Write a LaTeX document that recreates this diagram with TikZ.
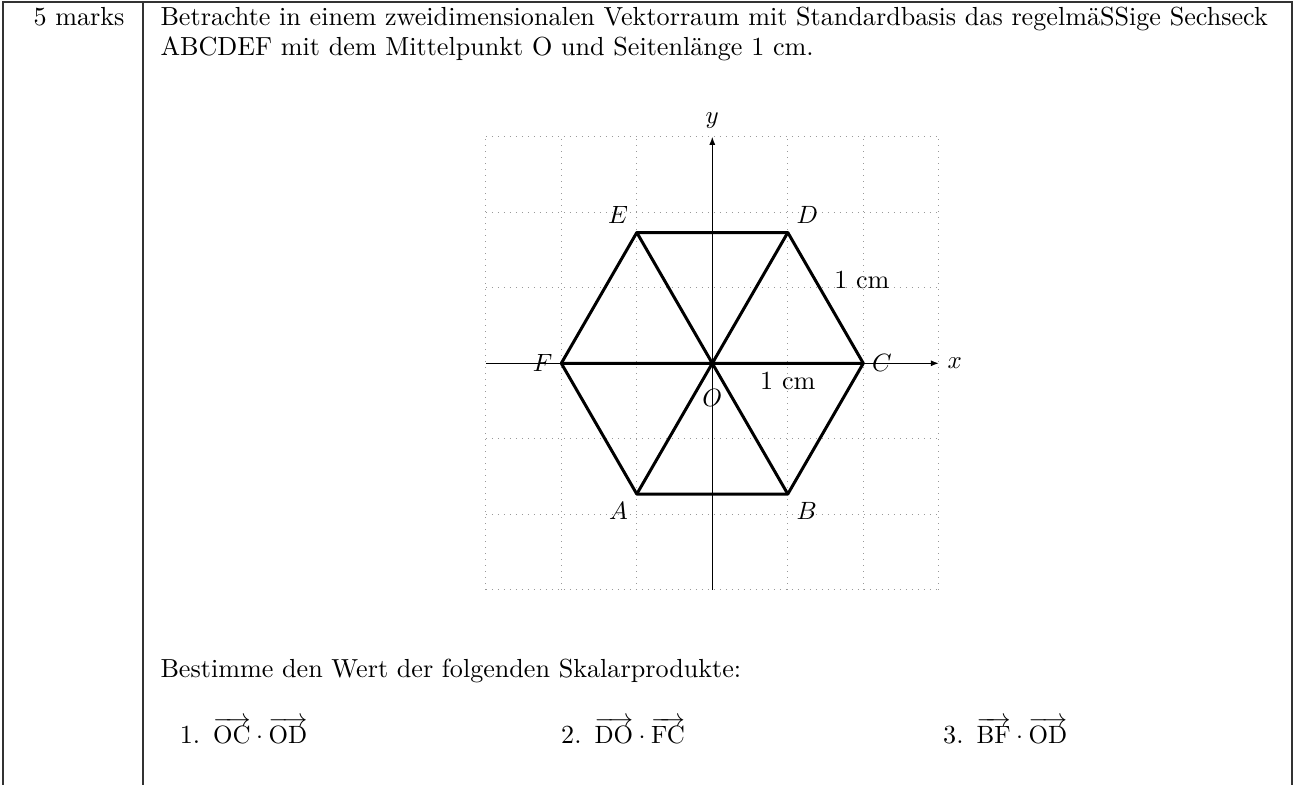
\documentclass[tikz,border=0pt]{standalone}
\usepackage{amsmath}
\usepackage{tikz}
\usetikzlibrary{arrows.meta, positioning}

\begin{document}
\begin{tikzpicture}[
  x=0.4pt, y=-0.4pt,
  font=\fontsize{10.45}{12.5}\selectfont,
  frm/.style={line width=0.5pt, draw=black!80},
  gd/.style={dotted, draw=black!40, line width=0.4pt},
  ax/.style={-{Latex[length=3.2pt, width=2.4pt]}, line width=0.45pt},
  hx/.style={line width=1.2pt, line join=round},
  txt/.style={anchor=base west, inner sep=0pt}
]
\useasboundingbox (0,0) rectangle (1296,785);
% table frame
\draw[frm] (3,785) -- (3,2) -- (1292,2) -- (1292,785);
\draw[frm] (143,2) -- (143,785);

\node[txt] (marks) at (33,25.7) {5 marks};
\node[txt] (intro1) at (160,25.7) {Betrachte in einem zweidimensionalen Vektorraum mit Standardbasis das regelmäSSige Sechseck};
\node[txt] (intro2) at (160,55.7) {ABCDEF mit dem Mittelpunkt O und Seitenlänge 1 cm.};

% hexagon on the grid
\begin{scope}[shift={(712.3,363.3)}, x=30.2pt, y=30.2pt]
  \draw[gd] (-3,-3) grid[step=1] (3,3);
  \draw[ax] (-3,0) -- (3,0) node[right] (xl) {$x$};
  \draw[ax] (0,-3) -- (0,3) node[above] (yl) {$y$};
  \coordinate (O) at (0,0);
  \foreach \n/\a in {C/0, D/60, E/120, F/180, A/240, B/300}
    \coordinate (\n) at (\a:2);
  \draw[hx] (A) -- (B) -- (C) -- (D) -- (E) -- (F) -- cycle;
  \draw[hx] (F) -- (C) (E) -- (B) (D) -- (A);
  \node[above left] (lE) at (E) {$E$};
  \node[above right] (lD) at (D) {$D$};
  \node[right] (lC) at (C) {$C$};
  \node[left] (lF) at (F) {$F$};
  \node[below left] (lA) at (A) {$A$};
  \node[below right] (lB) at (B) {$B$};
  \node[below=7pt] (lO) at (O) {$O$};
  \path (O) -- (C) node[midway, below] (s1) {1 cm};
  \path (C) -- (D) node[midway, above right] (s2) {1 cm};
\end{scope}

\node[txt] (task) at (160,677.3) {Bestimme den Wert der folgenden Skalarprodukte:};
\node[txt] (q1) at (179.3,743.3) {1.\enspace$\overrightarrow{\mathrm{OC}}\cdot\overrightarrow{\mathrm{OD}}$};
\node[txt] (q2) at (560.7,743.3) {2.\enspace$\overrightarrow{\mathrm{DO}}\cdot\overrightarrow{\mathrm{FC}}$};
\node[txt] (q3) at (942.7,743.3) {3.\enspace$\overrightarrow{\mathrm{BF}}\cdot\overrightarrow{\mathrm{OD}}$};
\end{tikzpicture}
\end{document}
